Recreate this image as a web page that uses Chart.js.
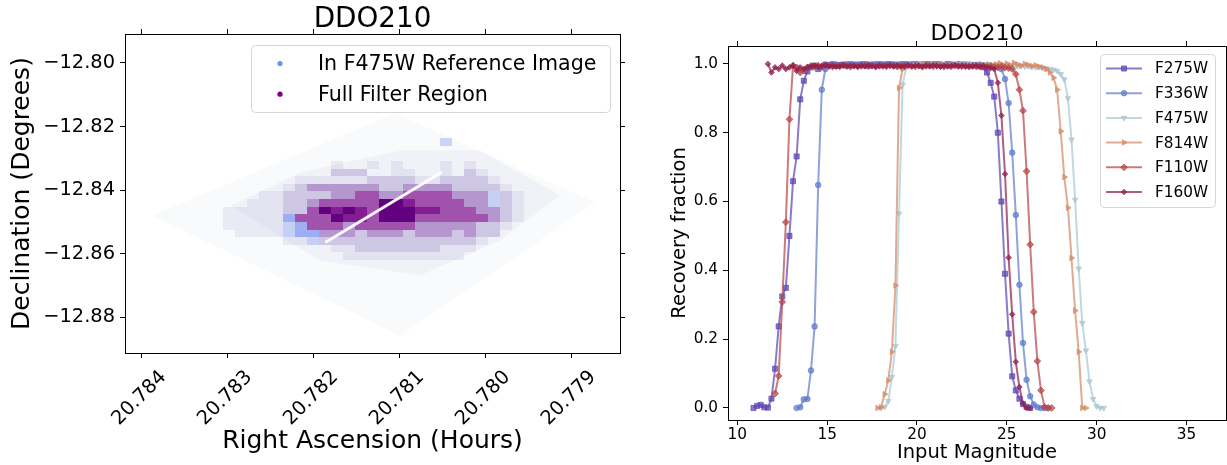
<!DOCTYPE html>
<html><head><meta charset="utf-8">
<script src="https://cdn.jsdelivr.net/npm/chart.js@4.4.1/dist/chart.umd.min.js"></script>
<style>
html,body{margin:0;padding:0;background:#fff;width:1227px;height:465px;overflow:hidden}
#left{position:absolute;left:0;top:0}
#right{position:absolute;left:640px;top:0}
</style></head><body>
<canvas id="left" width="640" height="465"></canvas>
<canvas id="right" width="587" height="465"></canvas>
<script>
// ================= LEFT PANEL DATA =================
const raTicks = [20.784, 20.783, 20.782, 20.781, 20.780, 20.779];
const decTicks = [-12.80, -12.82, -12.84, -12.86, -12.88];
const footprintRA  = [20.783872, 20.781047, 20.778721, 20.780988, 20.783872];
const footprintDec = [-12.8480, -12.8158, -12.8439, -12.8858, -12.8480];
const hazeRA  = [20.782965, 20.782151, 20.780988, 20.780058, 20.779128, 20.779826, 20.780756, 20.781919, 20.782965];
const hazeDec = [-12.844819, -12.834425, -12.827496, -12.827496, -12.841669, -12.855843, -12.866866, -12.862142, -12.844819];
const gapRA  = [20.78186, 20.78050];
const gapDec = [-12.85647, -12.83430];
const binRA0 = 20.7834, binRAStep = -0.00014;
const binDec0 = -12.8224, binDecStep = -0.0024;
const densityRows = [
  "............................",
  ".....................b......",
  "............................",
  "............................",
  "............1..1.1...1.1....",
  "............222..11..1.21...",
  ".........11111122221122221..",
  "........1233333322333322221.",
  "......1122223344334444333b21",
  ".....11122344444665444433b21",
  "...1111122465654666554443321",
  "...11111B4446554666444444321",
  "...11111bB44434444433333221.",
  "....1111bBB333233323332322..",
  "........11b22222222222221...",
  "............112222222111....",
  ".............1111111111....."
];

// ================= RIGHT PANEL DATA =================
const magTicks = [10, 15, 20, 25, 30, 35];
const fracTicks = [0.0, 0.2, 0.4, 0.6, 0.8, 1.0];
const magStep = 0.2;
const filterNames  = ['F275W', 'F336W', 'F475W', 'F814W', 'F110W', 'F160W'];
const filterStarts = [10.9, 13.3, 18.0, 17.8, 12.1, 11.7];
const F275W = [0.000,0.006,0.009,0.002,0.001,0.027,0.114,0.237,0.324,0.349,0.500,0.659,0.731,0.897,0.951,0.978,0.990,0.995,
 0.985,0.990,0.998,0.996,0.999,0.994,0.997,0.998,0.995,0.999,
 0.996,0.998,0.997,0.999,0.995,0.998,0.997,0.999,0.996,0.998,
 0.999,0.997,0.998,0.996,0.999,0.998,0.997,0.999,0.998,0.996,
 0.999,0.998,0.997,0.999,0.998,0.997,0.999,0.998,0.996,0.998,
 0.997,0.998,0.996,0.997,0.995,0.993,0.990,
 0.975,0.945,0.905,0.800,0.600,0.390,0.216,0.092,0.051,0.027,0.011,0.003,0.000];
const F336W = [0.000,0.002,0.025,0.026,0.109,0.237,0.648,0.925,0.985,0.995,
 0.996,0.998,0.994,0.997,0.999,0.996,0.998,0.997,0.999,0.995,
 0.998,0.997,0.999,0.996,0.998,0.999,0.997,0.998,0.996,0.999,
 0.998,0.997,0.999,0.998,0.996,0.999,0.997,0.998,0.999,0.997,
 0.998,0.996,0.999,0.998,0.997,0.999,0.998,0.997,0.998,0.996,
 0.997,0.998,0.996,0.997,0.995,0.994,0.992,
 0.985,0.956,0.886,0.742,0.561,0.358,0.189,0.082,0.034,0.010,0.002,0.000,0.000,0.000];
const F475W = [0.000,0.003,0.020,0.090,0.180,0.565,0.940,0.990,
 0.996,0.998,0.997,0.999,0.998,0.996,0.999,0.997,0.998,0.999,
 0.997,0.998,0.996,0.999,0.998,0.997,0.999,0.998,0.996,0.998,
 0.997,0.999,0.998,0.996,0.997,0.998,0.995,0.996,0.994,0.995,
 0.993,0.994,0.992,0.993,0.991,0.990,0.991,0.988,0.987,0.985,0.983,
 0.980,0.970,0.955,0.900,0.780,0.605,0.405,0.247,0.167,0.077,0.026,0.005,0.000,0.000];
const F814W = [0.000,0.002,0.040,0.080,0.163,0.356,0.930,0.985,
 0.992,0.995,0.993,0.996,0.994,0.997,0.995,0.993,0.996,0.994,
 0.997,0.995,0.993,0.996,0.995,0.994,0.997,0.995,0.993,0.996,
 0.994,0.997,0.995,0.998,0.996,0.999,1.002,0.997,1.001,0.996,
 1.003,0.998,0.995,1.000,0.997,0.994,0.996,0.992,0.990,0.985,0.975,
 0.960,0.925,0.804,0.671,0.582,0.436,0.283,0.163,0.000,0.000];
const F110W = [0.042,0.093,0.308,0.540,0.839,0.995,0.990,
 0.975,0.980,0.990,0.994,0.992,0.995,0.993,0.996,0.994,0.992,
 0.995,0.993,0.996,0.994,0.992,0.995,0.993,0.994,0.996,0.993,
 0.995,0.992,0.994,0.996,0.993,0.995,0.994,0.992,0.995,0.993,
 0.996,0.994,0.993,0.995,0.992,0.994,0.996,0.993,0.995,0.994,
 0.992,0.995,0.993,0.996,0.994,0.993,0.995,0.992,0.994,0.993,
 0.995,0.994,0.992,0.993,0.991,0.990,0.992,0.989,0.988,
 0.985,0.970,0.925,0.864,0.688,0.475,0.279,0.136,0.051,0.003,0.000,0.000];
const F160W = [1.000,0.975,0.990,0.985,0.995,0.985,0.990,0.995,0.980,0.990,
 0.985,0.990,0.993,0.995,0.992,0.994,0.996,0.993,0.995,0.992,
 0.994,0.996,0.993,0.995,0.994,0.992,0.995,0.993,0.996,0.994,
 0.992,0.995,0.993,0.994,0.996,0.993,0.995,0.992,0.994,0.996,
 0.993,0.995,0.994,0.992,0.995,0.993,0.996,0.994,0.992,0.995,
 0.993,0.994,0.996,0.993,0.995,0.992,0.994,0.993,0.995,0.992,
 0.993,0.990,0.988,0.985,
 0.945,0.850,0.680,0.437,0.272,0.134,0.061,0.013,0.000,0.000];
const filterValues = [F275W, F336W, F475W, F814W, F110W, F160W];

// ================= STYLES =================
const FONT = "'DejaVu Sans', sans-serif";
Chart.defaults.font.family = FONT;
Chart.defaults.color = '#000';
const levelColors = {
  '1':'rgba(112,112,190,0.12)', '2':'rgba(112,85,180,0.28)', '3':'rgba(118,48,160,0.48)',
  '4':'rgba(125,14,140,0.70)', '5':'rgba(115,0,132,0.88)', '6':'rgba(98,0,128,1)',
  'b':'rgba(100,125,240,0.30)', 'B':'rgba(100,125,240,0.58)'
};
const seriesStyles = [
  {color:'rgba(95,70,180,0.72)',  point:'rect',    radius:3.6, rotation:0},
  {color:'rgba(95,122,205,0.70)', point:'circle',  radius:2.8, rotation:0},
  {color:'rgba(170,198,208,0.70)',point:'triangle',radius:3.2, rotation:180},
  {color:'rgba(214,138,105,0.72)',point:'triangle',radius:3.2, rotation:90},
  {color:'rgba(185,70,72,0.72)',  point:'rectRot', radius:3.4, rotation:0},
  {color:'rgba(145,32,78,0.72)',  point:'rectRot', radius:2.8, rotation:0}
];

// ================= HELPERS / PLUGINS =================
const titlePlugin = {
  id: 'axTitle',
  afterDraw(chart, args, o) {
    const a = chart.chartArea, ctx = chart.ctx;
    ctx.save();
    ctx.font = o.size + 'px ' + FONT;
    ctx.fillStyle = '#000'; ctx.textAlign = 'center'; ctx.textBaseline = 'alphabetic';
    ctx.fillText(o.text, (a.left + a.right) / 2, o.baseline);
    ctx.restore();
  }
};
const cellPlugin = {
  id: 'cells',
  afterDatasetDraw(chart, args) {
    const ds = chart.data.datasets[args.index];
    if (!ds.cells) return;
    const xs = chart.scales.x, ys = chart.scales.y, ctx = chart.ctx, a = chart.chartArea;
    ctx.save();
    ctx.beginPath(); ctx.rect(a.left, a.top, a.right - a.left, a.bottom - a.top); ctx.clip();
    ds.data.forEach(p => {
      const x1 = Math.round(xs.getPixelForValue(p.x - binRAStep / 2));
      const x2 = Math.round(xs.getPixelForValue(p.x + binRAStep / 2));
      const y1 = Math.round(ys.getPixelForValue(p.y - binDecStep / 2));
      const y2 = Math.round(ys.getPixelForValue(p.y + binDecStep / 2));
      ctx.fillStyle = levelColors[p.v];
      ctx.fillRect(Math.min(x1, x2), Math.min(y1, y2), Math.abs(x2 - x1), Math.abs(y2 - y1));
    });
    ctx.restore();
  }
};
function roundBox(ctx, x, y, w, h, r) {
  ctx.beginPath();
  ctx.moveTo(x + r, y); ctx.lineTo(x + w - r, y); ctx.quadraticCurveTo(x + w, y, x + w, y + r);
  ctx.lineTo(x + w, y + h - r); ctx.quadraticCurveTo(x + w, y + h, x + w - r, y + h);
  ctx.lineTo(x + r, y + h); ctx.quadraticCurveTo(x, y + h, x, y + h - r);
  ctx.lineTo(x, y + r); ctx.quadraticCurveTo(x, y, x + r, y); ctx.closePath();
}
const leftLegend = {
  id: 'leftLegend',
  afterDraw(chart) {
    const a = chart.chartArea, ctx = chart.ctx;
    const items = chart.data.datasets.filter(d => d.legendColor);
    const w = 359, h = 67, x0 = a.right - 10 - w, y0 = a.top + 11;
    ctx.save();
    roundBox(ctx, x0 + 0.5, y0 + 0.5, w, h, 4);
    ctx.fillStyle = 'rgba(255,255,255,0.8)'; ctx.fill();
    ctx.strokeStyle = '#d6d6d6'; ctx.lineWidth = 1; ctx.stroke();
    ctx.font = '20.6px ' + FONT; ctx.textBaseline = 'middle'; ctx.textAlign = 'left';
    items.forEach((d, i) => {
      const yy = y0 + 18.5 + i * 30.7;
      ctx.fillStyle = d.legendColor;
      ctx.beginPath(); ctx.arc(x0 + 29, yy, 2.6, 0, Math.PI * 2); ctx.fill();
      ctx.fillStyle = '#000';
      ctx.fillText(d.label, x0 + 67, yy + 1);
    });
    ctx.restore();
  }
};
const rightLegend = {
  id: 'rightLegend',
  afterDraw(chart) {
    const a = chart.chartArea, ctx = chart.ctx;
    const w = 115, h = 153, x0 = a.right - 11 - w, y0 = a.top + 8;
    ctx.save();
    roundBox(ctx, x0 + 0.5, y0 + 0.5, w, h, 4);
    ctx.fillStyle = 'rgba(255,255,255,0.8)'; ctx.fill();
    ctx.strokeStyle = '#d6d6d6'; ctx.lineWidth = 1; ctx.stroke();
    ctx.font = '15.3px ' + FONT; ctx.textBaseline = 'middle'; ctx.textAlign = 'left';
    chart.data.datasets.forEach((d, i) => {
      const yy = y0 + 14.5 + i * 24.7;
      ctx.strokeStyle = d.borderColor; ctx.lineWidth = 2;
      ctx.beginPath(); ctx.moveTo(x0 + 6, yy); ctx.lineTo(x0 + 42, yy); ctx.stroke();
      ctx.fillStyle = d.borderColor; ctx.lineWidth = 1;
      Chart.helpers.drawPoint(ctx, {pointStyle: d.pointStyle, radius: d.pointRadius, rotation: d.pointRotation, borderWidth: 1}, x0 + 24, yy);
      ctx.fillStyle = '#000';
      ctx.fillText(d.label, x0 + 55, yy + 1);
    });
    ctx.restore();
  }
};
// keep the plot frame where the reference has it
function fitArea(chart, targetRight) {
  for (let k = 0; k < 3; k++) {
    const d = chart.chartArea.right - targetRight;
    if (Math.abs(d) <= 0.2) break;
    chart.config.options.layout.padding.right += d;
    chart.update('none');
  }
}

// ================= LEFT CHART =================
const purpleCells = [], blueCells = [];
densityRows.forEach((row, r) => {
  [...row].forEach((ch, c) => {
    if (ch === '.') return;
    const pt = {x: binRA0 + c * binRAStep, y: binDec0 + r * binDecStep, v: ch};
    (ch === 'b' || ch === 'B' ? blueCells : purpleCells).push(pt);
  });
});
const pts = (xs, ys) => xs.map((x, i) => ({x, y: ys[i]}));
const raMin = 20.77843, raMax = 20.78419, decMin = -12.8912, decMax = -12.7909;
const decFmt = v => v.toFixed(2).replace('-', '\u2212');
function mirrorAxis(pos, min, max, ticks, reverse, horiz) {
  return {
    type: 'linear', position: pos, min, max, reverse,
    afterBuildTicks: s => { s.ticks = ticks.map(v => ({value: v})); },
    afterFit: s => { if (horiz) s.height = 0; else s.width = 0; },
    ticks: {display: false},
    grid: {drawOnChartArea: false, drawTicks: true, tickLength: 5, color: '#000', tickWidth: 1},
    border: {display: true, color: '#000', width: 1}
  };
}
const leftChart = new Chart(document.getElementById('left'), {
  type: 'scatter',
  data: {
    datasets: [
      {label: '_footprint', data: pts(footprintRA, footprintDec), showLine: true, fill: 'shape',
       backgroundColor: 'rgba(175,185,205,0.08)', borderWidth: 0, pointRadius: 0, order: 6},
      {label: '_haze', data: pts(hazeRA, hazeDec), showLine: true, fill: 'shape',
       backgroundColor: 'rgba(150,150,205,0.08)', borderWidth: 0, pointRadius: 0, order: 5},
      {label: 'In F475W Reference Image', data: blueCells, cells: true, pointRadius: 0,
       legendColor: '#6495ED', order: 4},
      {label: 'Full Filter Region', data: purpleCells, cells: true, pointRadius: 0,
       legendColor: '#800080', order: 3},
      {label: '_gap', data: pts(gapRA, gapDec), showLine: true, borderColor: 'rgba(255,255,255,0.95)',
       borderWidth: 3, pointRadius: 0, order: 1}
    ]
  },
  options: {
    responsive: false, animation: false, events: [],
    layout: {autoPadding: false, padding: {top: 34, right: 20, bottom: 0, left: 0}},
    plugins: {legend: {display: false}, tooltip: {enabled: false},
      axTitle: {text: 'DDO210', size: 27.8, baseline: 26.5}},
    scales: {
      x: {
        type: 'linear', position: 'bottom', min: raMin, max: raMax, reverse: true,
        afterBuildTicks: s => { s.ticks = raTicks.map(v => ({value: v})); },
        afterFit: s => { s.height = 112; },
        ticks: {font: {size: 19.4}, color: '#000', minRotation: 45, maxRotation: 45, autoSkip: false,
          labelOffset: 22, padding: 8, callback: v => v.toFixed(3)},
        grid: {drawOnChartArea: false, drawTicks: true, tickLength: 5, color: '#000'},
        border: {display: true, color: '#000', width: 1},
        title: {display: true, text: 'Right Ascension (Hours)', font: {size: 25}, color: '#000', padding: {top: 0, bottom: 9}}
      },
      x2: mirrorAxis('top', raMin, raMax, raTicks, true, true),
      y: {
        type: 'linear', position: 'left', min: decMin, max: decMax,
        afterBuildTicks: s => { s.ticks = decTicks.map(v => ({value: v})); },
        afterFit: s => { s.width = 125; },
        ticks: {font: {size: 19.4}, color: '#000', padding: 5, callback: decFmt},
        grid: {drawOnChartArea: false, drawTicks: true, tickLength: 5, color: '#000'},
        border: {display: true, color: '#000', width: 1},
        title: {display: true, text: 'Declination (Degrees)', font: {size: 25}, color: '#000', padding: {top: 7, bottom: 0}}
      },
      y2: mirrorAxis('right', decMin, decMax, decTicks, false, false)
    }
  },
  plugins: [cellPlugin, titlePlugin, leftLegend]
});
fitArea(leftChart, 620);

// ================= RIGHT CHART =================
const rightDatasets = filterNames.map((name, k) => {
  const st = seriesStyles[k];
  return {
    label: name,
    data: filterValues[k].map((v, i) => ({x: +(filterStarts[k] + i * magStep).toFixed(1), y: v})),
    showLine: true, borderColor: st.color, backgroundColor: st.color, borderWidth: 2,
    pointStyle: st.point, pointRadius: st.radius, pointRotation: st.rotation,
    pointBackgroundColor: st.color, pointBorderColor: st.color, pointBorderWidth: 1,
    order: 6 - k
  };
});
const magMin = 9.48, magMax = 37.2, fracMin = -0.035, fracMax = 1.052;
const rightChart = new Chart(document.getElementById('right'), {
  type: 'scatter',
  data: {datasets: rightDatasets},
  options: {
    responsive: false, animation: false, events: [],
    layout: {autoPadding: false, padding: {top: 46, right: 1, bottom: 0, left: 0}},
    plugins: {legend: {display: false}, tooltip: {enabled: false},
      axTitle: {text: 'DDO210', size: 22, baseline: 39.5}},
    scales: {
      x: {
        type: 'linear', position: 'bottom', min: magMin, max: magMax,
        afterBuildTicks: s => { s.ticks = magTicks.map(v => ({value: v})); },
        afterFit: s => { s.height = 45; },
        ticks: {font: {size: 15.3}, color: '#000', padding: 1, maxRotation: 0, autoSkip: false, callback: v => String(v)},
        grid: {drawOnChartArea: false, drawTicks: true, tickLength: 5, color: '#000'},
        border: {display: true, color: '#000', width: 1},
        title: {display: true, text: 'Input Magnitude', font: {size: 19.5}, color: '#000', padding: {top: 0, bottom: 0}}
      },
      x2: mirrorAxis('top', magMin, magMax, magTicks, false, true),
      y: {
        type: 'linear', position: 'left', min: fracMin, max: fracMax,
        afterBuildTicks: s => { s.ticks = fracTicks.map(v => ({value: v})); },
        afterFit: s => { s.width = 88; },
        ticks: {font: {size: 15.3}, color: '#000', padding: 5, callback: v => v.toFixed(1)},
        grid: {drawOnChartArea: false, drawTicks: true, tickLength: 5, color: '#000'},
        border: {display: true, color: '#000', width: 1},
        title: {display: true, text: 'Recovery fraction', font: {size: 19.5}, color: '#000', padding: {top: 28, bottom: 0}}
      },
      y2: mirrorAxis('right', fracMin, fracMax, fracTicks, false, false)
    }
  },
  plugins: [titlePlugin, rightLegend]
});
fitArea(rightChart, 586);
</script>
</body></html>
